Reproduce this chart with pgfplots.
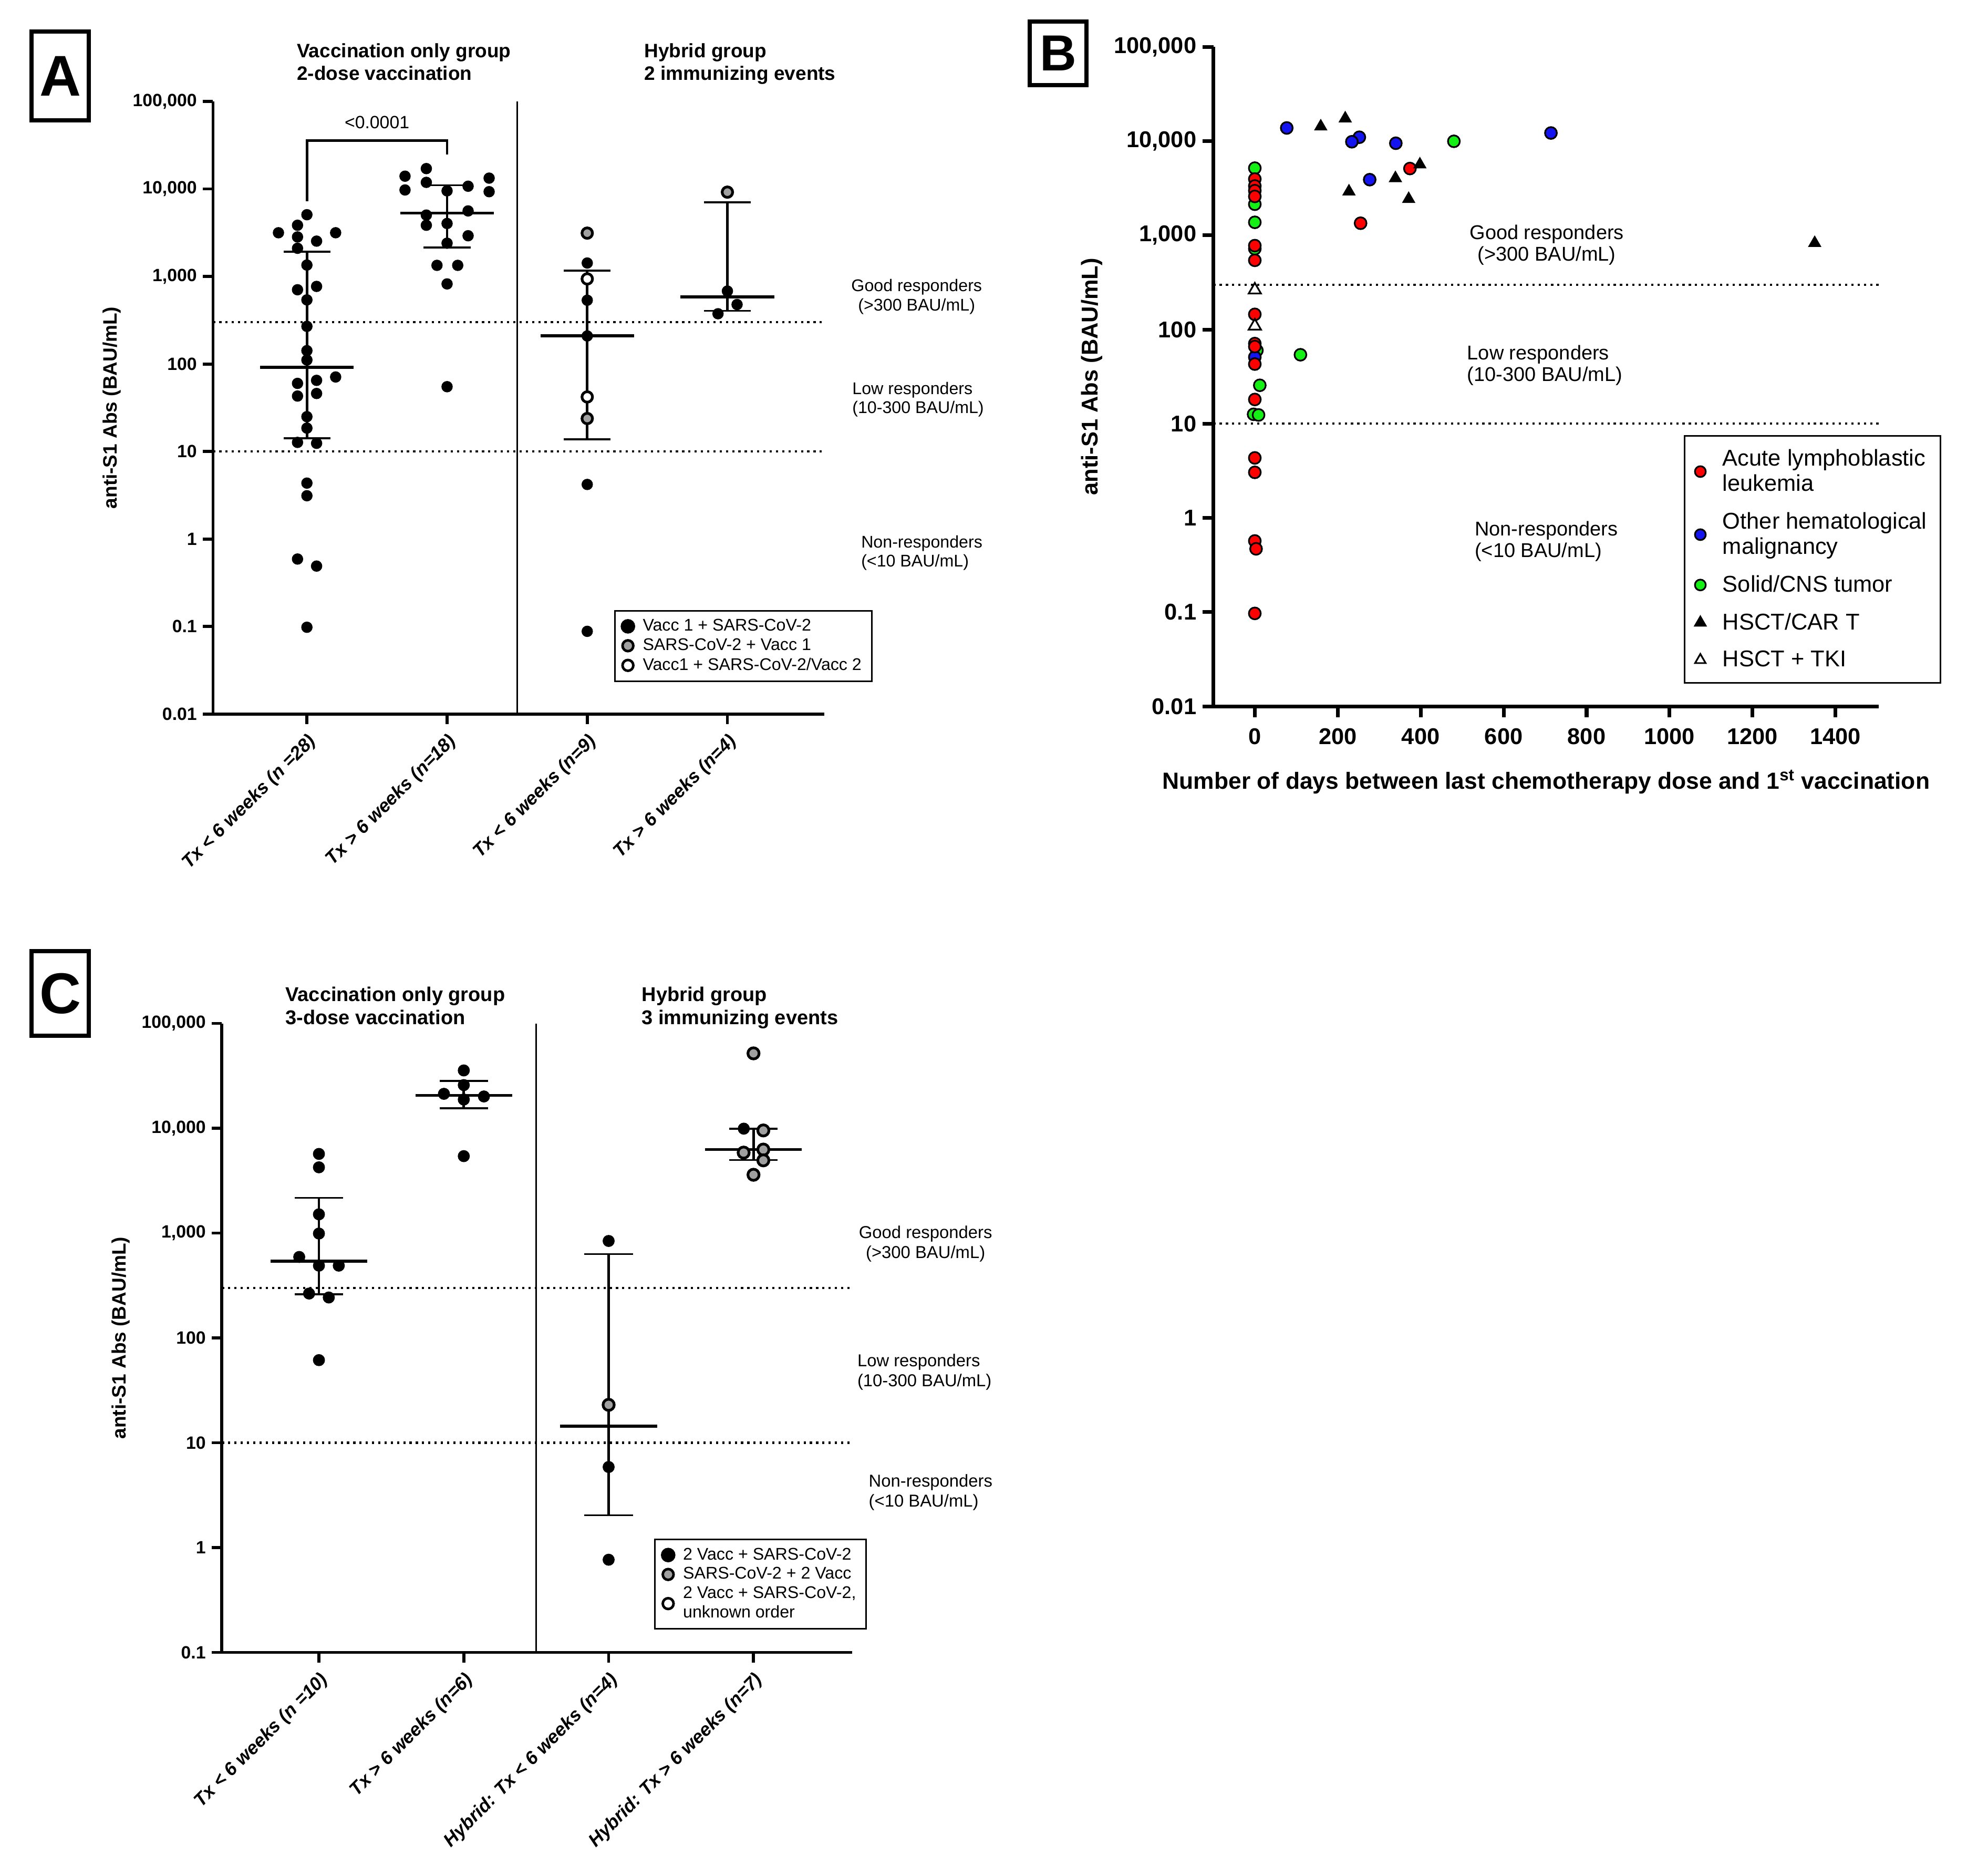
\documentclass[border=0pt]{standalone}
\usepackage{fontspec}
\setmainfont{Liberation Sans}
\setsansfont{Liberation Sans}
\usepackage{pgfplots}
\pgfplotsset{compat=1.18}
\definecolor{gpgray}{HTML}{A0A0A0}
\definecolor{allred}{HTML}{FF0000}
\definecolor{ohblue}{HTML}{1414F0}
\definecolor{solgreen}{HTML}{14F014}
\newcommand{\fs}[2]{\fontsize{#1pt}{#2pt}\selectfont}
\pgfplotsset{
  myaxstyle/.style={
    scale only axis,
    axis x line*=bottom, axis y line*=left,
    axis line style={line width=1.8pt,-},
    tick align=outside, major tick length=6pt,
    major tick style={line width=1.8pt,black},
    yminorticks=false, xminorticks=false,
    clip=false, legend cell align=left,
  },
  mymed/.style={line width=1.8pt, black, forget plot},
  myeb/.style={line width=1.5pt, black, forget plot},
  mycap/.style={line width=1.1pt, black, forget plot},
  myref/.style={line width=1.3pt, black, dash pattern=on 1.3pt off 2.4pt, forget plot},
  myblk/.style={only marks, mark=*, mark size=3.1pt, mark options={draw=black, fill=black, line width=0.5pt}},
  mygry/.style={only marks, mark=*, mark size=3.1pt, mark options={draw=black, fill=gpgray, line width=1.6pt}},
  mywht/.style={only marks, mark=*, mark size=3.1pt, mark options={draw=black, fill=white, line width=1.6pt}},
  mycirc/.style={only marks, mark=*, mark size=3.5pt, mark options={draw=black, fill=#1, line width=1pt}},
}
\begin{document}
\begin{tikzpicture}
\useasboundingbox (0,0) rectangle (1176pt,-1109.25pt);

% ---------------- Panel A ----------------
\begin{axis}[myaxstyle, ymode=log, at={(126pt,-422.25pt)}, anchor=south west,
  width=361.5pt, height=362.25pt,
  xmin=-0.67, xmax=3.69, ymin=0.01, ymax=100000,
  xtick={0,1,2,3},
  xticklabels={{Tx < 6 weeks (n =28)},{Tx > 6 weeks (n=18)},{Tx < 6 weeks (n=9)},{Tx > 6 weeks (n=4)}},
  xticklabel style={rotate=45, anchor=north east, font=\bfseries\itshape\fs{11}{13}},
  ytick={0.01,0.1,1,10,100,1000,10000,100000},
  yticklabels={0.01,0.1,1,10,100,{1,000},{10,000},{100,000}},
  yticklabel style={font=\bfseries\fs{10.5}{12}},
  ylabel={anti-S1 Abs (BAU/mL)}, ylabel style={font=\bfseries\fs{11.5}{13}},
  legend style={at={(0.656,0.17)}, anchor=north west, draw=black, line width=1pt,
    font=\fs{10}{11.5}, row sep=-1pt, column sep=3pt, inner xsep=4pt, inner ysep=3pt},
]
\draw[line width=1.8pt] (rel axis cs:0,0) -- ++(-6pt,0pt);
\addplot[myref] coordinates {(-0.67,300) (3.69,300)};
\addplot[myref] coordinates {(-0.67,10) (3.69,10)};
\addplot[line width=0.8pt, black, forget plot] coordinates {(1.5,0.01) (1.5,100000)};
\addplot[line width=1.5pt, black, forget plot] coordinates {(0,7230) (0,35800) (1,35800) (1,24900)};
\addplot[mymed] coordinates {(-0.334,91.5) (0.334,91.5)};
\addplot[myeb] coordinates {(0,14.2) (0,1923)};
\addplot[mycap] coordinates {(-0.167,14.2) (0.167,14.2)};
\addplot[mycap] coordinates {(-0.167,1923) (0.167,1923)};
\addplot[mymed] coordinates {(0.666,5300) (1.334,5300)};
\addplot[myeb] coordinates {(1,2150) (1,11000)};
\addplot[mycap] coordinates {(0.833,2150) (1.167,2150)};
\addplot[mycap] coordinates {(0.833,11000) (1.167,11000)};
\addplot[mymed] coordinates {(1.666,209) (2.334,209)};
\addplot[myeb] coordinates {(2,13.8) (2,1170)};
\addplot[mycap] coordinates {(1.833,13.8) (2.167,13.8)};
\addplot[mycap] coordinates {(1.833,1170) (2.167,1170)};
\addplot[mymed] coordinates {(2.666,583) (3.334,583)};
\addplot[myeb] coordinates {(3,405) (3,7060)};
\addplot[mycap] coordinates {(2.833,405) (3.167,405)};
\addplot[mycap] coordinates {(2.833,7060) (3.167,7060)};
\addplot[myblk, forget plot] coordinates {
(0,5080) (-0.067,3850) (-0.203,3160) (0.205,3160) (-0.067,2830) (0.069,2535) (-0.067,2100)
(0,1350) (0.069,770) (-0.067,705) (0,540) (0,269) (0,142) (0,111) (0.205,71) (0.069,65)
(-0.067,60) (0.069,46) (-0.067,43) (0,25) (0,18.5) (-0.067,12.7) (0.069,12.4) (0,4.35)
(0,3.12) (-0.067,0.59) (0.069,0.49) (0,0.098)
(0.852,17100) (0.70,14000) (1.30,13300) (0.852,11900) (1.15,10750) (0.70,9740) (1,9520)
(1.30,9310) (1.15,5610) (0.852,5030) (1,4030) (0.852,3850) (1.15,2920) (1,2400)
(0.928,1340) (1.076,1340) (1,822) (1,55)
(2,1425) (2,535) (2,209) (2,4.2) (2,0.088)
(3,681) (3.069,478) (2.933,375)};
\addplot[mygry, forget plot] coordinates {(2,3130) (2,23.8) (3,9200)};
\addplot[mywht, forget plot] coordinates {(2,938) (2,42)};
\node[font=\fs{10.5}{12}] at (axis cs:0.5,58000) {<0.0001};
\addlegendimage{only marks, mark=*, mark size=3.8pt, mark options={draw=black, fill=black}}
\addlegendentry{Vacc 1 + SARS-CoV-2}
\addlegendimage{only marks, mark=*, mark size=3.2pt, mark options={draw=black, fill=gpgray, line width=1.5pt}}
\addlegendentry{SARS-CoV-2 + Vacc 1}
\addlegendimage{only marks, mark=*, mark size=3.2pt, mark options={draw=black, fill=white, line width=1.5pt}}
\addlegendentry{Vacc1 + SARS-CoV-2/Vacc 2}
\end{axis}

% ---------------- Panel B ----------------
\begin{axis}[myaxstyle, ymode=log, at={(717.75pt,-417.75pt)}, anchor=south west,
  width=393.75pt, height=390pt,
  axis line style={line width=2.2pt,-},
  major tick style={line width=2.2pt,black}, major tick length=6.5pt,
  xmin=-100, xmax=1505, ymin=0.01, ymax=100000,
  xtick={0,200,400,600,800,1000,1200,1400},
  xticklabels={0,200,400,600,800,1000,1200,1400},
  xticklabel style={font=\bfseries\fs{13.5}{15}, yshift=-3pt},
  ytick={0.01,0.1,1,10,100,1000,10000,100000},
  yticklabels={0.01,0.1,1,10,100,{1,000},{10,000},{100,000}},
  yticklabel style={font=\bfseries\fs{13.5}{15}},
  xlabel={Number of days between last chemotherapy dose and 1\textsuperscript{st} vaccination},
  xlabel style={font=\bfseries\fs{13.8}{15}, yshift=-8pt},
  ylabel={anti-S1 Abs (BAU/mL)}, ylabel style={font=\bfseries\fs{13.5}{15}},
  legend style={at={(0.707,0.4115)}, anchor=north west, draw=black, line width=1pt,
    font=\fs{13.5}{15}, cells={align=left}, row sep=7pt, column sep=8pt, inner xsep=6pt, inner ysep=6pt},
]
\draw[line width=2.2pt] (rel axis cs:0,0) -- ++(-6.5pt,0pt);
\addplot[myref] coordinates {(-100,300) (1505,300)};
\addplot[myref] coordinates {(-100,10) (1505,10)};
\addplot[mycirc=solgreen, forget plot] coordinates {
(480,9960) (110,54) (0,5170) (0,2140) (0,1375) (0,721) (5,60) (12,25.6) (-3,12.6) (9,12.4)};
\addplot[mycirc=ohblue, forget plot] coordinates {
(77,13800) (252,11000) (234,9850) (340,9500) (714,12200) (277,3900) (0,51)};
\addplot[mycirc=allred, forget plot] coordinates {
(374,5120) (255,1345) (0,3960) (0,3340) (0,2980) (0,2590) (0,778) (0,543) (0,145) (0,71)
(0,66) (0,43) (0,18.1) (0,4.34) (0,3.05) (0,0.57) (3,0.47) (0,0.097)};
\addplot[only marks, mark=triangle*, mark size=4.2pt, mark options={draw=black, fill=black}, forget plot] coordinates {
(159,14300) (218,17400) (398,5650) (339,4040) (227,2920) (371,2430) (1350,828)};
\addplot[only marks, mark=triangle*, mark size=4.2pt, mark options={draw=black, fill=white, line width=1pt}, forget plot] coordinates {
(0,263) (0,109)};
\addlegendimage{only marks, mark=*, mark size=3.2pt, mark options={draw=black, fill=allred, line width=1pt}}
\addlegendentry{Acute lymphoblastic\\leukemia}
\addlegendimage{only marks, mark=*, mark size=3.2pt, mark options={draw=black, fill=ohblue, line width=1pt}}
\addlegendentry{Other hematological\\malignancy}
\addlegendimage{only marks, mark=*, mark size=3.2pt, mark options={draw=black, fill=solgreen, line width=1pt}}
\addlegendentry{Solid/CNS tumor}
\addlegendimage{only marks, mark=triangle*, mark size=3.6pt, mark options={draw=black, fill=black}}
\addlegendentry{HSCT/CAR T}
\addlegendimage{only marks, mark=triangle*, mark size=3.6pt, mark options={draw=black, fill=white, line width=1pt}}
\addlegendentry{HSCT + TKI}
\end{axis}

% ---------------- Panel C ----------------
\begin{axis}[myaxstyle, ymode=log, at={(131.25pt,-977.25pt)}, anchor=south west,
  width=372.75pt, height=372pt,
  xmin=-0.67, xmax=3.68, ymin=0.1, ymax=100000,
  xtick={0,1,2,3},
  xticklabels={{Tx < 6 weeks (n =10)},{Tx > 6 weeks (n=6)},{Hybrid: Tx < 6 weeks (n=4)},{Hybrid: Tx > 6 weeks (n=7)}},
  xticklabel style={rotate=45, anchor=north east, font=\bfseries\itshape\fs{11}{13}},
  ytick={0.1,1,10,100,1000,10000,100000},
  yticklabels={0.1,1,10,100,{1,000},{10,000},{100,000}},
  yticklabel style={font=\bfseries\fs{10.5}{12}},
  ylabel={anti-S1 Abs (BAU/mL)}, ylabel style={font=\bfseries\fs{11.5}{13}},
  legend style={at={(0.686,0.181)}, anchor=north west, draw=black, line width=1pt,
    font=\fs{10}{11.5}, cells={align=left}, row sep=-1pt, column sep=3pt, inner xsep=4pt, inner ysep=3pt},
]
\draw[line width=1.8pt] (rel axis cs:0,0) -- ++(-6pt,0pt);
\addplot[myref] coordinates {(-0.67,300) (3.68,300)};
\addplot[myref] coordinates {(-0.67,10) (3.68,10)};
\addplot[line width=0.8pt, black, forget plot] coordinates {(1.5,0.1) (1.5,100000)};
\addplot[mymed] coordinates {(-0.334,542) (0.334,542)};
\addplot[myeb] coordinates {(0,260) (0,2170)};
\addplot[mycap] coordinates {(-0.167,260) (0.167,260)};
\addplot[mycap] coordinates {(-0.167,2170) (0.167,2170)};
\addplot[mymed] coordinates {(0.666,20600) (1.334,20600)};
\addplot[myeb] coordinates {(1,15500) (1,28300)};
\addplot[mycap] coordinates {(0.833,15500) (1.167,15500)};
\addplot[mycap] coordinates {(0.833,28300) (1.167,28300)};
\addplot[mymed] coordinates {(1.666,14.4) (2.334,14.4)};
\addplot[myeb] coordinates {(2,2.03) (2,632)};
\addplot[mycap] coordinates {(1.833,2.03) (2.167,2.03)};
\addplot[mycap] coordinates {(1.833,632) (2.167,632)};
\addplot[mymed] coordinates {(2.666,6270) (3.334,6270)};
\addplot[myeb] coordinates {(3,4980) (3,9900)};
\addplot[mycap] coordinates {(2.833,4980) (3.167,4980)};
\addplot[mycap] coordinates {(2.833,9900) (3.167,9900)};
\addplot[myblk, mark size=3.3pt, forget plot] coordinates {
(0,5690) (0,4240) (0,1510) (0,990) (-0.136,592) (0,489) (0.137,489) (-0.068,265) (0.068,243) (0,61.4)
(1,35600) (1,25800) (0.863,21300) (1.139,20100) (1,18800) (1,5420)
(2,841) (2,5.87) (2,0.766) (2.933,9910)};
\addplot[mygry, mark size=3.3pt, forget plot] coordinates {
(2,23) (3,51800) (3.068,9530) (3.068,6260) (2.932,5860) (3.068,4940) (3,3600)};
\addlegendimage{only marks, mark=*, mark size=3.8pt, mark options={draw=black, fill=black}}
\addlegendentry{2 Vacc + SARS-CoV-2}
\addlegendimage{only marks, mark=*, mark size=3.2pt, mark options={draw=black, fill=gpgray, line width=1.5pt}}
\addlegendentry{SARS-CoV-2 + 2 Vacc}
\addlegendimage{only marks, mark=*, mark size=3.2pt, mark options={draw=black, fill=white, line width=1.5pt}}
\addlegendentry{2 Vacc + SARS-CoV-2,\\unknown order}
\end{axis}

% ---------------- Texts ----------------
\begin{scope}[x=0.75pt, y=-0.75pt]
\node[draw, line width=2.5pt, minimum width=33.75pt, minimum height=52.5pt, inner sep=0pt, font=\bfseries\fs{34}{36}] at (47.5,60) {A};
\node[draw, line width=2.5pt, minimum width=33.75pt, minimum height=37.5pt, inner sep=0pt, font=\bfseries\fs{30}{32}] at (834.5,42) {B};
\node[draw, line width=2.5pt, minimum width=33.75pt, minimum height=50pt, inner sep=0pt, font=\bfseries\fs{34}{36}] at (47.5,783.5) {C};

\node[anchor=north west, align=left, inner sep=0pt, font=\bfseries\fs{11.5}{13.5}] at (234,34) {Vaccination only group\\2-dose vaccination};
\node[anchor=north west, align=left, inner sep=0pt, font=\bfseries\fs{11.5}{13.5}] at (508,34) {Hybrid group\\2 immunizing events};
\node[align=center, inner sep=0pt, font=\fs{10}{11.3}] at (723,234) {Good responders\\(>300 BAU/mL)};
\node[anchor=west, align=left, inner sep=0pt, font=\fs{10}{11.3}] at (672,315) {Low responders\\(10-300 BAU/mL)};
\node[anchor=west, align=left, inner sep=0pt, font=\fs{10}{11.3}] at (679,436) {Non-responders\\(<10 BAU/mL)};

\node[align=center, inner sep=0pt, font=\fs{11.8}{12.8}] at (1220,193) {Good responders\\(>300 BAU/mL)};
\node[anchor=west, align=left, inner sep=0pt, font=\fs{11.8}{12.8}] at (1157,288) {Low responders\\(10-300 BAU/mL)};
\node[anchor=west, align=left, inner sep=0pt, font=\fs{11.8}{12.8}] at (1163,427) {Non-responders\\(<10 BAU/mL)};

\node[anchor=north west, align=left, inner sep=0pt, font=\bfseries\fs{11.8}{13.5}] at (225,778) {Vaccination only group\\3-dose vaccination};
\node[anchor=north west, align=left, inner sep=0pt, font=\bfseries\fs{11.8}{13.5}] at (506,778) {Hybrid group\\3 immunizing events};
\node[align=center, inner sep=0pt, font=\fs{10.2}{11.8}] at (730,981) {Good responders\\(>300 BAU/mL)};
\node[anchor=west, align=left, inner sep=0pt, font=\fs{10.2}{11.8}] at (676,1082) {Low responders\\(10-300 BAU/mL)};
\node[anchor=west, align=left, inner sep=0pt, font=\fs{10.2}{11.8}] at (685,1177) {Non-responders\\(<10 BAU/mL)};
\end{scope}
\end{tikzpicture}
\end{document}
